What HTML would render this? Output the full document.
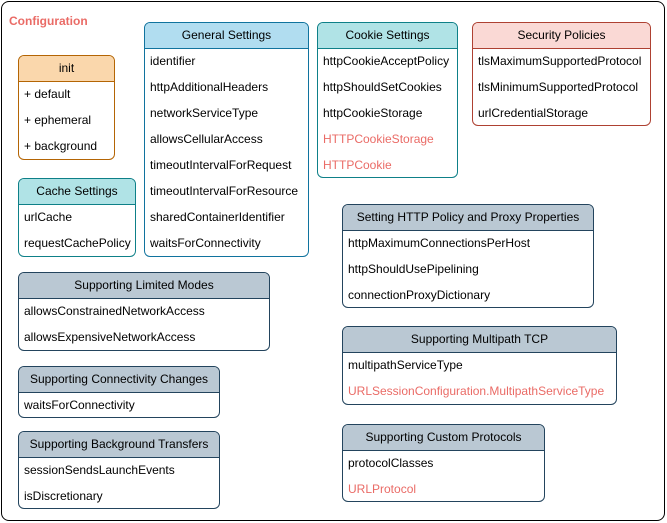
<!DOCTYPE html>
<html><head><meta charset="utf-8"><style>
body{margin:0;width:667px;height:523px;background:#fff;font-family:"Liberation Sans",sans-serif;font-size:12px;position:relative;overflow:hidden}
.outer{position:absolute;left:1px;top:1px;width:662px;height:518px;border:1px solid #000;border-radius:8px}
.t{position:absolute;left:9px;top:14px;color:#ea6b66;font-weight:bold;font-size:12px}
.b{position:absolute;border:1px solid;border-radius:6px;background:#fff;overflow:hidden;box-sizing:border-box}
.h{height:26px;line-height:24px;text-align:center;border-bottom:1px solid;box-sizing:border-box}
.r{height:26px;line-height:24px;padding-left:5px;white-space:nowrap}
.red{color:#ea6b66}
.o{border-color:#b46504}.o .h{background:#fad7ac;border-color:#b46504}
.c{border-color:#0e8088}.c .h{background:#b0e3e6;border-color:#0e8088}
.bl{border-color:#10739e}.bl .h{background:#b1ddf0;border-color:#10739e}
.p{border-color:#ae4132}.p .h{background:#fad9d5;border-color:#ae4132}
.g{border-color:#23445d}.g .h{background:#bac8d3;border-color:#23445d}
</style></head><body>
<div class="outer"></div>
<div class="t">Configuration</div>
<div class="b o" style="left:18px;top:55px;width:97px;height:105px"><div class="h">init</div><div class="r">+ default</div><div class="r">+ ephemeral</div><div class="r">+ background</div></div>
<div class="b c" style="left:18px;top:178px;width:118px;height:79px"><div class="h">Cache Settings</div><div class="r">urlCache</div><div class="r">requestCachePolicy</div></div>
<div class="b bl" style="left:144px;top:22px;width:165px;height:235px"><div class="h">General Settings</div><div class="r">identifier</div><div class="r">httpAdditionalHeaders</div><div class="r">networkServiceType</div><div class="r">allowsCellularAccess</div><div class="r">timeoutIntervalForRequest</div><div class="r">timeoutIntervalForResource</div><div class="r">sharedContainerIdentifier</div><div class="r">waitsForConnectivity</div></div>
<div class="b c" style="left:317px;top:22px;width:141px;height:156px"><div class="h">Cookie Settings</div><div class="r">httpCookieAcceptPolicy</div><div class="r">httpShouldSetCookies</div><div class="r">httpCookieStorage</div><div class="r red">HTTPCookieStorage</div><div class="r red">HTTPCookie</div></div>
<div class="b p" style="left:472px;top:22px;width:179px;height:104px"><div class="h">Security Policies</div><div class="r">tlsMaximumSupportedProtocol</div><div class="r">tlsMinimumSupportedProtocol</div><div class="r">urlCredentialStorage</div></div>
<div class="b g" style="left:342px;top:204px;width:252px;height:104px"><div class="h">Setting HTTP Policy and Proxy Properties</div><div class="r">httpMaximumConnectionsPerHost</div><div class="r">httpShouldUsePipelining</div><div class="r">connectionProxyDictionary</div></div>
<div class="b g" style="left:18px;top:272px;width:252px;height:79px"><div class="h">Supporting Limited Modes</div><div class="r">allowsConstrainedNetworkAccess</div><div class="r">allowsExpensiveNetworkAccess</div></div>
<div class="b g" style="left:18px;top:366px;width:202px;height:52px"><div class="h">Supporting Connectivity Changes</div><div class="r">waitsForConnectivity</div></div>
<div class="b g" style="left:18px;top:431px;width:202px;height:78px"><div class="h">Supporting Background Transfers</div><div class="r">sessionSendsLaunchEvents</div><div class="r">isDiscretionary</div></div>
<div class="b g" style="left:342px;top:326px;width:275px;height:79px"><div class="h">Supporting Multipath TCP</div><div class="r">multipathServiceType</div><div class="r red">URLSessionConfiguration.MultipathServiceType</div></div>
<div class="b g" style="left:342px;top:424px;width:203px;height:78px"><div class="h">Supporting Custom Protocols</div><div class="r">protocolClasses</div><div class="r red">URLProtocol</div></div>
</body></html>
